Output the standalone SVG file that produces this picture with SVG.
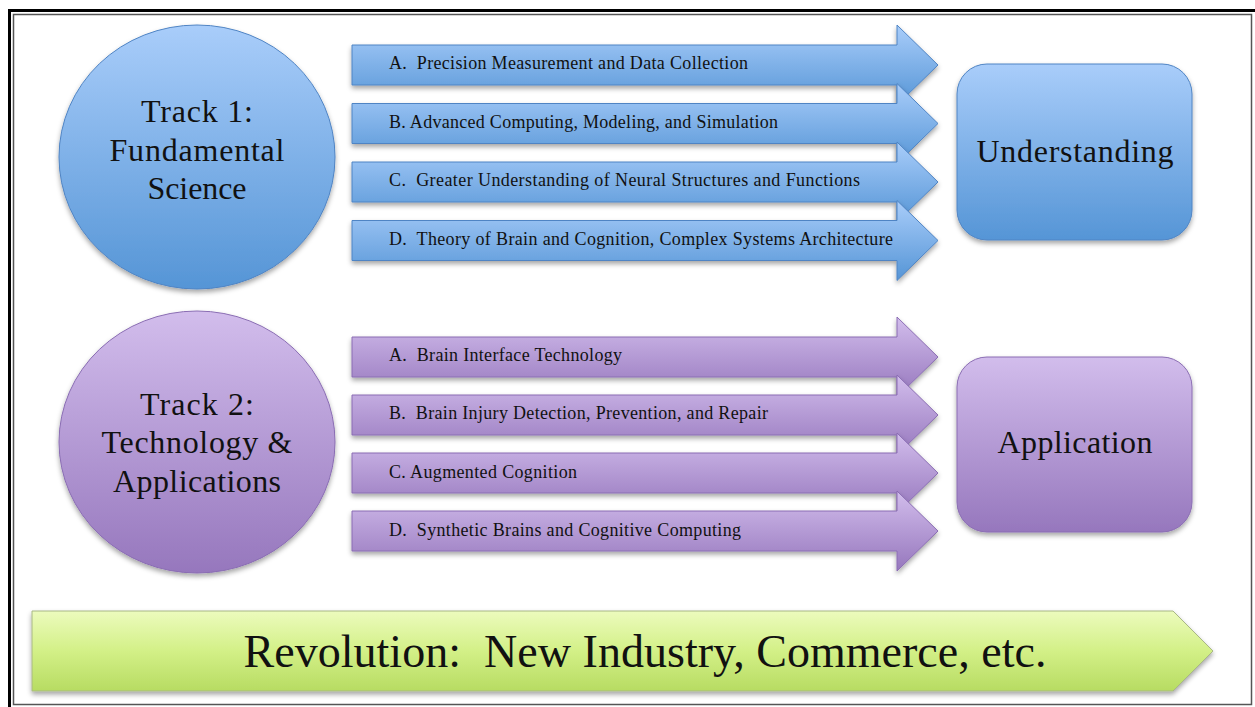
<svg xmlns="http://www.w3.org/2000/svg" width="1255" height="707" viewBox="0 0 1255 707" xml:space="preserve">
  <defs>
    <linearGradient id="gBlue" x1="0" y1="0" x2="0" y2="1">
      <stop offset="0" stop-color="#a9cdfa"/>
      <stop offset="1" stop-color="#5595d6"/>
    </linearGradient>
    <linearGradient id="gPurple" x1="0" y1="0" x2="0" y2="1">
      <stop offset="0" stop-color="#d2bdec"/>
      <stop offset="1" stop-color="#9677bd"/>
    </linearGradient>
    <linearGradient id="gGreen" x1="0" y1="0" x2="0" y2="1">
      <stop offset="0" stop-color="#ecfbbd"/>
      <stop offset="0.5" stop-color="#d3f087"/>
      <stop offset="1" stop-color="#b7dc62"/>
    </linearGradient>
    <filter id="shadow" x="-10%" y="-10%" width="120%" height="130%">
      <feDropShadow dx="0" dy="3" stdDeviation="2.5" flood-color="#000" flood-opacity="0.35"/>
    </filter>
    <path id="arrowShape" d="M0,-20 H545 V-40 L586,0 L545,40 V20 H0 Z"/>
  </defs>
  <style>
    .blue { fill: url(#gBlue); stroke: #4f84c4; stroke-width: 1; filter: url(#shadow); }
    .purple { fill: url(#gPurple); stroke: #8a6db3; stroke-width: 1; filter: url(#shadow); }
    .green { fill: url(#gGreen); stroke: #a8b884; stroke-width: 1; filter: url(#shadow); }
    text { font-family: 'Liberation Serif', 'Times New Roman', serif; fill: #111; white-space: pre; }
    .big { font-size: 32px; text-anchor: middle; }
    .lbl { font-size: 18px; }
    .rev { font-size: 46px; text-anchor: middle; }
  </style>

  <rect width="1255" height="707" fill="#ffffff"/>

  <!-- page frame: heavy outer rule on top/left, thin inner rule -->
  <g id="frame" fill="none">
    <line x1="8" y1="10.5" x2="1255" y2="10.5" stroke="#000" stroke-width="3"/>
    <line x1="9.5" y1="9" x2="9.5" y2="707" stroke="#000" stroke-width="3"/>
    <rect x="13.5" y="14.5" width="1238" height="690" stroke="#555" stroke-width="1.5"/>
  </g>

  <!-- track nodes -->
  <g id="track1">
    <ellipse class="blue" cx="197" cy="157" rx="138" ry="132"/>
    <text class="big" x="197" y="122" textLength="112">Track 1:</text>
    <text class="big" x="197" y="161" textLength="175">Fundamental</text>
    <text class="big" x="197" y="199" textLength="99">Science</text>
  </g>
  <g id="track2">
    <ellipse class="purple" cx="197" cy="442" rx="138" ry="131"/>
    <text class="big" x="197" y="415" textLength="114">Track 2:</text>
    <text class="big" x="197" y="453" textLength="191">Technology &amp;</text>
    <text class="big" x="197" y="492" textLength="168">Applications</text>
  </g>

  <!-- outcome nodes -->
  <g id="understanding">
    <rect class="blue" x="957" y="64" width="235" height="176" rx="30"/>
    <text class="big" x="1075" y="162" textLength="197">Understanding</text>
  </g>
  <g id="application">
    <rect class="purple" x="957" y="357" width="235" height="175" rx="30"/>
    <text class="big" x="1075" y="453" textLength="155">Application</text>
  </g>

  <!-- labelled arrows leading to the outcomes -->
  <g id="connectors">
    <use href="#arrowShape" class="blue" transform="translate(352,65)"/>
    <text class="lbl" x="389" y="69" textLength="359">A.  Precision Measurement and Data Collection</text>
    <use href="#arrowShape" class="blue" transform="translate(352,123.5)"/>
    <text class="lbl" x="389" y="128" textLength="389">B. Advanced Computing, Modeling, and Simulation</text>
    <use href="#arrowShape" class="blue" transform="translate(352,182)"/>
    <text class="lbl" x="389" y="186" textLength="471">C.  Greater Understanding of Neural Structures and Functions</text>
    <use href="#arrowShape" class="blue" transform="translate(352,240.5)"/>
    <text class="lbl" x="389" y="245" textLength="504">D.  Theory of Brain and Cognition, Complex Systems Architecture</text>

    <use href="#arrowShape" class="purple" transform="translate(352,357)"/>
    <text class="lbl" x="389" y="361" textLength="233">A.  Brain Interface Technology</text>
    <use href="#arrowShape" class="purple" transform="translate(352,415)"/>
    <text class="lbl" x="389" y="419" textLength="379">B.  Brain Injury Detection, Prevention, and Repair</text>
    <use href="#arrowShape" class="purple" transform="translate(352,473)"/>
    <text class="lbl" x="389" y="478" textLength="188">C. Augmented Cognition</text>
    <use href="#arrowShape" class="purple" transform="translate(352,531)"/>
    <text class="lbl" x="389" y="536" textLength="352">D.  Synthetic Brains and Cognitive Computing</text>
  </g>

  <!-- bottom chevron -->
  <g id="revolution">
    <path class="green" d="M32,611 H1173 L1213,651 L1173,691 H32 Z"/>
    <text class="rev" x="645" y="667" textLength="803">Revolution:  New Industry, Commerce, etc.</text>
  </g>
</svg>
